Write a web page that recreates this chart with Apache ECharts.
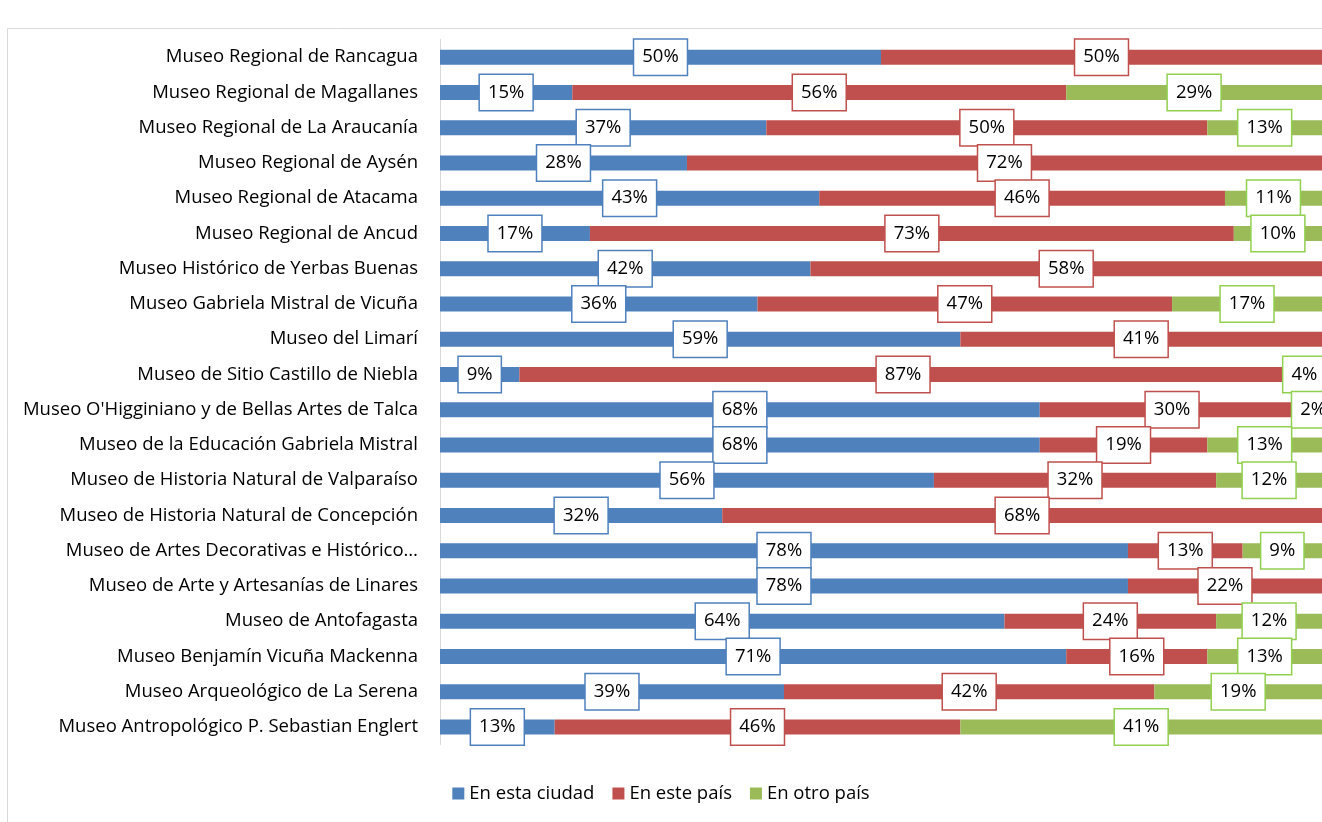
<!DOCTYPE html>
<html>
<head>
<meta charset="utf-8">
<script src="https://cdn.jsdelivr.net/npm/echarts@6/dist/echarts.min.js"></script>
<style>
  html, body { margin: 0; padding: 0; background: #fff; }
  #chart { width: 1322px; height: 822px; }
</style>
</head>
<body>
<div id="chart"></div>
<script>
// museos, de arriba hacia abajo
const museos = [
  'Museo Regional de Rancagua',
  'Museo Regional de Magallanes',
  'Museo Regional de La Araucanía',
  'Museo Regional de Aysén',
  'Museo Regional de Atacama',
  'Museo Regional de Ancud',
  'Museo Histórico de Yerbas Buenas',
  'Museo Gabriela Mistral de Vicuña',
  'Museo del Limarí',
  'Museo de Sitio Castillo de Niebla',
  "Museo O'Higginiano y de Bellas Artes de Talca",
  'Museo de la Educación Gabriela Mistral',
  'Museo de Historia Natural de Valparaíso',
  'Museo de Historia Natural de Concepción',
  'Museo de Artes Decorativas e Histórico…',
  'Museo de Arte y Artesanías de Linares',
  'Museo de Antofagasta',
  'Museo Benjamín Vicuña Mackenna',
  'Museo Arqueológico de La Serena',
  'Museo Antropológico P. Sebastian Englert'
]

const enEstaCiudad = [50, 15, 37, 28, 43, 17, 42, 36, 59, 9, 68, 68, 56, 32, 78, 78, 64, 71, 39, 13]
const enEstePais   = [50, 56, 50, 72, 46, 73, 58, 47, 41, 87, 30, 19, 32, 68, 13, 22, 24, 16, 42, 46]
const enOtroPais   = [0, 29, 13, 0, 11, 10, 0, 17, 0, 4, 2, 13, 12, 0, 9, 0, 12, 13, 19, 41]

const fuente = '"Open Sans", "Noto Sans", sans-serif'

const chart = echarts.init(document.getElementById('chart'))

const serie = (name, values, color, borderColor) => ({
  name: name,
  type: 'bar',
  stack: 'total',
  barWidth: 15,
  itemStyle: { color: color },
  label: {
    show: true,
    position: 'inside',
    formatter: '{c}%',
    color: '#000',
    fontFamily: fuente,
    fontSize: 18.5,
    lineHeight: 22,
    backgroundColor: '#fff',
    borderColor: borderColor,
    borderWidth: 1.5,
    padding: [7, 8, 6, 8]
  },
  data: values.map(v => v === 0 ? { value: 0, label: { show: false } } : v)
})

chart.setOption({
  animation: false,
  graphic: [{
    type: 'rect',
    shape: { x: 7.5, y: 28.5, width: 1400, height: 900 },
    style: { fill: 'none', stroke: '#d9d9d9', lineWidth: 1 },
    silent: true
  }],
  legend: {
    top: 779,
    left: 'center',
    icon: 'rect',
    itemWidth: 12,
    itemHeight: 12,
    itemGap: 18,
    textStyle: { fontFamily: fuente, fontSize: 18.5, color: '#000' },
    data: ['En esta ciudad', 'En este país', 'En otro país']
  },
  grid: {
    left: 440,
    top: 39.5,
    width: 884,
    height: 705
  },
  xAxis: {
    type: 'value',
    min: 0,
    max: 100,
    show: false
  },
  yAxis: {
    type: 'category',
    inverse: true,
    data: museos,
    axisLine: { show: true, lineStyle: { color: '#d9d9d9', width: 1 } },
    axisTick: { show: false },
    axisLabel: {
      margin: 22,
      color: '#000',
      fontFamily: fuente,
      fontSize: 18.5,
      padding: [3, 0, 0, 0]
    }
  },
  series: [
    serie('En esta ciudad', enEstaCiudad, '#4f81bd', '#4f81bd'),
    serie('En este país', enEstePais, '#c0504d', '#c0504d'),
    serie('En otro país', enOtroPais, '#9bbb59', '#92d050')
  ]
})
</script>
</body>
</html>
